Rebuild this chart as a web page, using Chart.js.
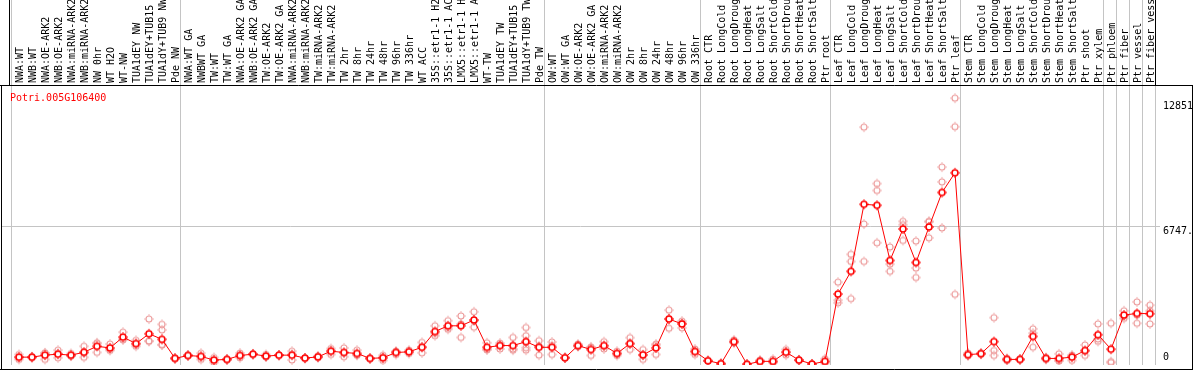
<!DOCTYPE html>
<html><head><meta charset="utf-8">
<script src="https://cdn.jsdelivr.net/npm/chart.js@4/dist/chart.umd.min.js"></script>
<style>html,body{margin:0;padding:0;background:#fff;}canvas{display:block;}</style>
</head><body>
<canvas id="c" width="1194" height="370" style="width:1194px;height:370px"></canvas>
<script>
const geneId = 'Potri.005G106400';

const categories = [
  'NWA:WT','NWB:WT','NWA:OE-ARK2','NWB:OE-ARK2','NWA:miRNA-ARK2','NWB:miRNA-ARK2','NW 0hr','WT H2O','WT-NW','TUA1dEY NW','TUA1dEY+TUB15 NW','TUA1dY+TUB9 NW','Pde NW',
  'NWA:WT GA','NWBWT GA','TW:WT','TW:WT GA','NWA:OE-ARK2 GA','NWB:OE-ARK2 GA','TW:OE-ARK2','TW:OE-ARK2 GA','NWA:miRNA-ARK2 GA','NWB:miRNA-ARK2 GA','TW:miRNA-ARK2','TW:miRNA-ARK2 GA',
  'TW 2hr','TW 8hr','TW 24hr','TW 48hr','TW 96hr','TW 336hr','WT ACC','35S::etr1-1 H2O','35S::etr1-1 ACC','LMX5::etr1-1 H2O','LMX5::etr1-1 ACC','WT-TW','TUA1dEY TW','TUA1dEY+TUB15 TW','TUA1dY+TUB9 TW','Pde TW',
  'OW:WT','OW:WT GA','OW:OE-ARK2','OW:OE-ARK2 GA','OW:miRNA-ARK2','OW:miRNA-ARK2 GA','OW 2hr','OW 8hr','OW 24hr','OW 48hr','OW 96hr','OW 336hr',
  'Root CTR','Root LongCold','Root LongDrought','Root LongHeat','Root LongSalt','Root ShortCold','Root ShortDrought','Root ShortHeat','Root ShortSalt','Ptr root',
  'Leaf CTR','Leaf LongCold','Leaf LongDrought','Leaf LongHeat','Leaf LongSalt','Leaf ShortCold','Leaf ShortDrought','Leaf ShortHeat','Leaf ShortSalt','Ptr leaf',
  'Stem CTR','Stem LongCold','Stem LongDrought','Stem LongHeat','Stem LongSalt','Stem ShortCold','Stem ShortDrought','Stem ShortHeat','Stem ShortSalt','Ptr shoot','Ptr xylem',
  'Ptr phloem','Ptr fiber','Ptr vessel','Ptr fiber vessel'
];

// indices where a new sample group starts (separator lines)
const groupBreaks = [0, 13, 41, 53, 63, 73, 84, 85, 86, 87, 88];

const means = [
  360, 360, 457, 505, 457, 600, 890, 810, 1340, 1020, 1500, 1230, 300,
  440, 395, 217, 250, 440, 505, 410, 457, 457, 313, 375, 650, 587, 540, 298, 330, 587, 620, 840, 1610, 1890, 1890, 2175, 840, 925, 925, 1115, 840,
  840, 330, 925, 730, 925, 540, 1020, 472, 810, 2220, 1980, 635,
  183, 40, 1115, 10, 154, 154, 600, 217, 24, 154,
  3440, 4550, 7823, 7775, 5079, 6619, 4983, 6716, 8400, 9363,
  481, 530, 1118, 249, 249, 1372, 297, 297, 361, 683, 1454,
  746, 2416, 2494, 2480
];

const replicates = [
  [490,360,250],[340,380,360],[570,250,550],[700,540,330],[540,420,410],[890,350,560],[1020,590,1060],[1000,740,690],[1580,1210,1230],[1180,890,990],[2220,1130,1150],[1960,1690,970,950],[300,280,320],
  [440,430,460],[550,250,390],[340,100,210],[250,240,260],[560,330,430],[500,520,490],[490,370,380],[460,450,460],[650,220,500],[300,320,320],[330,420,370],[780,490,680],[810,380,570],[700,470,450],[310,280,300],[450,200,340],[650,490,620],[700,540,620],[1080,570,870],[1890,1530,1410],[2140,1720,1810],[2370,1320,1980],[2575,1820,2130],[1060,740,720],[960,760,1050],[1320,700,760],[1805,1405,820,700],[1165,457,900],
  [1100,490,930],[330,320,340],[1000,880,900],[860,440,820],[1115,760,900],[650,440,530],[1310,730,1020],[730,440,250],[1000,490,940],[2655,1770,2240],[2120,1790,2030],[760,490,650],
  [180,190,180],[40,30,50],[1200,1050,1100],[10,10,10],[220,120,130],[260,90,120],[730,460,600],[230,200,220],[20,30,20],[280,60,130],
  [4020,3140,3010],[5380,5030,3215],[11590,6860,5030],[8835,8497,5945],[5738,4901,4550],[6990,6826,6056],[6027,4708,4246],[6990,6186,6970],[9638,8916,6667],[13007,11611,3427],
  [560,420,470],[560,500,530],[2287,683,441],[300,200,250],[250,240,260],[1742,843,1530],[340,250,300],[520,200,170],[420,200,460],[953,441,655],[1983,1131,1250],
  [2012,87,140],[2624,2253,2370],[3057,2012,2413],[2898,2624,1983]
];

const yTickValues = [0, 6747, 12851];
const yTickLabels = ['0', '6747.', '12851'];
const yMin = -24, yMax = 13648;

const FONT = '10px "DejaVu Sans Mono", "Liberation Mono", monospace';

function makeMarker(stroke, fill, lw) {
  const s = 12, m = 6, r = 3;
  const c = document.createElement('canvas');
  c.width = s; c.height = s;
  const g = c.getContext('2d');
  g.beginPath(); g.arc(m, m, r, 0, Math.PI * 2);
  if (fill) { g.fillStyle = fill; g.fill(); }
  g.strokeStyle = stroke; g.lineWidth = lw; g.stroke();
  g.fillStyle = stroke;
  g.fillRect(m - 0.5, m - r - lw / 2 - 1.2, 1, 1.2);
  g.fillRect(m - 0.5, m + r + lw / 2, 1, 1.2);
  g.fillRect(m - r - lw / 2 - 1.2, m - 0.5, 1.2, 1);
  g.fillRect(m + r + lw / 2, m - 0.5, 1.2, 1);
  return c;
}
const meanMarker = makeMarker('#ff0000', '#ffffff', 1.6);
const repMarker = makeMarker('#ec9a9a', null, 1.1);

const maxReps = Math.max(...replicates.map(r => r.length));
const repDatasets = [];
for (let k = 0; k < maxReps; k++) {
  repDatasets.push({
    label: 'replicate ' + (k + 1),
    data: replicates.map(r => (r[k] === undefined ? null : r[k])),
    showLine: false,
    pointStyle: repMarker,
    pointRadius: 4,
    pointHoverRadius: 4,
    order: 2
  });
}

const deco = {
  id: 'deco',
  beforeDatasetsDraw(chart) {
    const { ctx, chartArea: ca, scales: { x, y } } = chart;
    ctx.save();
    ctx.strokeStyle = '#c4c4c4';
    ctx.lineWidth = 1;
    // group separators (full height, through label band)
    groupBreaks.forEach(k => {
      const px = Math.round(x.getPixelForValue(k - 0.5) - 1.5) + 0.5;
      ctx.beginPath(); ctx.moveTo(px, 0); ctx.lineTo(px, ca.bottom); ctx.stroke();
    });
    // middle horizontal grid line
    const gy = Math.floor(y.getPixelForValue(yTickValues[1])) + 0.5;
    ctx.beginPath(); ctx.moveTo(1, gy); ctx.lineTo(1160, gy); ctx.stroke();
    ctx.restore();
  },
  afterDraw(chart) {
    const { ctx, chartArea: ca, scales: { x, y } } = chart;
    ctx.save();
    // frames
    ctx.strokeStyle = '#000'; ctx.lineWidth = 1;
    const labRight = Math.round(x.getPixelForValue(categories.length - 0.5) - 1.5) + 0.5;
    ctx.beginPath();
    ctx.moveTo(0, 85.5); ctx.lineTo(1193, 85.5);
    ctx.moveTo(0, 369.5); ctx.lineTo(1193, 369.5);
    ctx.moveTo(1.5, 85); ctx.lineTo(1.5, 370);
    ctx.moveTo(1192.5, 85); ctx.lineTo(1192.5, 370);
    ctx.moveTo(9.5, 0); ctx.lineTo(9.5, 85);
    ctx.moveTo(labRight, 0); ctx.lineTo(labRight, 85);
    ctx.stroke();

    // category labels, rotated
    ctx.font = FONT;
    ctx.fillStyle = '#000';
    ctx.textAlign = 'left';
    ctx.textBaseline = 'alphabetic';
    ctx.save();
    ctx.beginPath(); ctx.rect(10, 0, labRight - 10, 85); ctx.clip();
    categories.forEach((lab, i) => {
      const px = x.getPixelForValue(i);
      ctx.save();
      ctx.translate(px + 3.5, 83);
      ctx.rotate(-Math.PI / 2);
      ctx.fillText(lab, 0, 0);
      ctx.restore();
    });
    ctx.restore();

    // gene id
    ctx.fillStyle = '#ff0000';
    ctx.fillText(geneId, 10, 101);

    // right-hand value labels
    ctx.fillStyle = '#000';
    ctx.textBaseline = 'middle';
    yTickValues.forEach((v, i) => {
      const py = y.getPixelForValue(v);
      let cy = py + 5;
      if (cy > ca.bottom - 8) cy = ca.bottom - 7.3;
      ctx.fillText(yTickLabels[i], 1163, cy);
    });
    ctx.restore();
  }
};

new Chart(document.getElementById('c'), {
  type: 'line',
  data: {
    labels: categories,
    datasets: [
      {
        label: geneId,
        data: means,
        borderColor: '#ff0000',
        borderWidth: 1,
        tension: 0,
        fill: false,
        pointStyle: meanMarker,
        pointRadius: 4,
        pointHoverRadius: 4,
        order: 0
      },
      ...repDatasets
    ]
  },
  options: {
    responsive: false,
    animation: false,
    devicePixelRatio: 1,
    layout: { padding: { left: 12.5, right: 37.5, top: 85, bottom: 1 } },
    plugins: { legend: { display: false }, tooltip: { enabled: false } },
    events: [],
    scales: {
      x: { type: 'category', offset: true, display: false },
      y: { type: 'linear', min: yMin, max: yMax, display: false }
    }
  },
  plugins: [deco]
});
</script>
</body></html>
